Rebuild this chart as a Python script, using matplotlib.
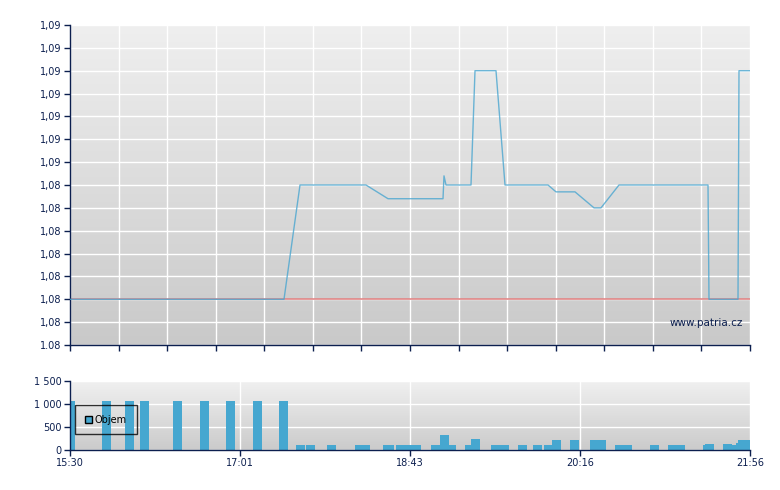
import numpy as np
import matplotlib
matplotlib.use("Agg")
import matplotlib.pyplot as plt
from matplotlib.patches import Rectangle
from matplotlib.colors import LinearSegmentedColormap

# ---------------- data ----------------
time_labels = ["15:30", "17:01", "18:43", "20:16", "21:56"]
time_positions = [0, 170, 340, 510, 680]          # session position (index axis)

price_x = [0, 214, 230, 296, 318, 373, 374, 376, 401, 405, 426, 435, 478,
           486, 505, 524, 531, 549, 638, 639, 668, 669, 680]
price_y = [1.0825, 1.0825, 1.0850, 1.0850, 1.0847, 1.0847, 1.0852, 1.0850,
           1.0850, 1.0875, 1.0875, 1.0850, 1.0850, 1.08485, 1.08485, 1.0845,
           1.0845, 1.0850, 1.0850, 1.0825, 1.0825, 1.0875, 1.0875]
prev_close = 1.0825

price_tick_start = 1.0815
price_tick_step = 0.0005
price_tick_labels = ["1.08", "1,08", "1,08", "1,08", "1,08", "1,08", "1,08", "1,08",
                     "1,09", "1,09", "1,09", "1,09", "1,09", "1,09", "1,09"]

vol_x = [0.5, 36.3, 59.3, 74.3, 107.7, 134.3, 160.7, 187.3, 213.3,
         230.5, 240.5, 261.5, 289.5, 295.5, 317.5, 319.5, 330.5, 339, 346,
         365.5, 374.3, 381.5, 399.5, 405.5, 425.5, 434.5, 452.5, 467.5,
         478, 486.5, 504.5, 524.5, 531.5, 549.5, 557.5, 584, 602.5, 610.5,
         637.5, 639.5, 657.5, 666.5, 670.5, 672.5, 676]
vol_y = [1070, 1070, 1070, 1070, 1070, 1070, 1070, 1070, 1070,
         107, 107, 107, 107, 107, 107, 107, 107, 107, 107,
         107, 321, 107, 107, 236, 107, 107, 107, 107,
         107, 214, 214, 214, 214, 107, 107, 107, 107, 107,
         107, 125, 125, 107, 150, 214, 214]
vol_ticks = [0, 500, 1000, 1500]
vol_tick_labels = ["0", "500", "1 000", "1 500"]

# ---------------- style ----------------
navy = "#0c1f4f"
line_blue = "#4aa6d0"
bar_blue = "#46a7d0"
red = "#e07c7c"
plt.rcParams["font.family"] = ["DejaVu Sans"]
fs = 7

W, H = 780, 490
fig = plt.figure(figsize=(W / 100, H / 100), dpi=100)
fig.patch.set_facecolor("white")

def px_axes(x0, y0, x1, y1):
    return fig.add_axes([x0 / W, 1 - y1 / H, (x1 - x0) / W, (y1 - y0) / H])

def add_gradient(ax, lo="#c9c9c9", hi="#efefef"):
    cm = LinearSegmentedColormap.from_list("g", [lo, hi])
    grad = np.linspace(0, 1, 256).reshape(-1, 1)
    ax.imshow(grad, cmap=cm, origin="lower", aspect="auto",
              extent=[0, 1, 0, 1], transform=ax.transAxes, zorder=0)

def style_axes(ax):
    for s in ["top", "right"]:
        ax.spines[s].set_visible(False)
    for s in ["left", "bottom"]:
        ax.spines[s].set_color(navy)
        ax.spines[s].set_linewidth(1.0)
    ax.tick_params(colors=navy, labelcolor=navy, labelsize=fs, length=4,
                   width=1.0, direction="out", pad=2)
    ax.set_axisbelow(True)

# ---------------- price panel ----------------
ax1 = px_axes(70, 25, 750, 345)
add_gradient(ax1, "#c9c9c9", "#efefef")
style_axes(ax1)
n_ticks = len(price_tick_labels)
yt = [price_tick_start + i * price_tick_step for i in range(n_ticks)]
ax1.set_ylim(yt[0], yt[-1])
ax1.set_yticks(yt)
ax1.set_yticklabels(price_tick_labels)
ax1.set_xlim(0, 680)
ax1.set_xticks(np.linspace(0, 680, 15))
ax1.set_xticklabels([])
ax1.grid(True, color="white", linewidth=1.0)
ax1.axhline(prev_close, color=red, linewidth=1.2, alpha=0.9, zorder=2)
ax1.plot(price_x, price_y, color=line_blue, linewidth=1.0, alpha=0.8, zorder=3)
ax1.text(0.99, 0.07, "www.patria.cz", transform=ax1.transAxes, ha="right",
         va="center", color=navy, fontsize=7.5)

# ---------------- volume panel ----------------
ax2 = px_axes(70, 381, 750, 450)
add_gradient(ax2, "#cbcbcb", "#f0f0f0")
style_axes(ax2)
ax2.set_xlim(0, 680)
ax2.set_ylim(0, 1500)
ax2.set_yticks(vol_ticks)
ax2.set_yticklabels(vol_tick_labels)
ax2.set_xticks(time_positions)
ax2.set_xticklabels(time_labels)
ax2.grid(True, color="white", linewidth=1.0)
order = np.argsort(vol_y, kind="stable")
ax2.bar(np.array(vol_x)[order], np.array(vol_y)[order], width=9,
        color=bar_blue, linewidth=0, zorder=2, clip_on=True)
handle = Rectangle((0, 0), 1, 1, facecolor=bar_blue, edgecolor="black", linewidth=1)
leg = ax2.legend([handle], ["Objem"], loc="upper left",
                 bbox_to_anchor=(0.0074, 0.655), fontsize=7, frameon=True,
                 fancybox=False, handlelength=0.75, handleheight=0.75,
                 handletextpad=0.3, borderpad=1.0, borderaxespad=0)
leg.get_frame().set_edgecolor("black")
leg.get_frame().set_facecolor("none")
leg.get_frame().set_linewidth(1.0)
for t in leg.get_texts():
    t.set_color("black")

fig.savefig("out.png", dpi=100, facecolor="white")
